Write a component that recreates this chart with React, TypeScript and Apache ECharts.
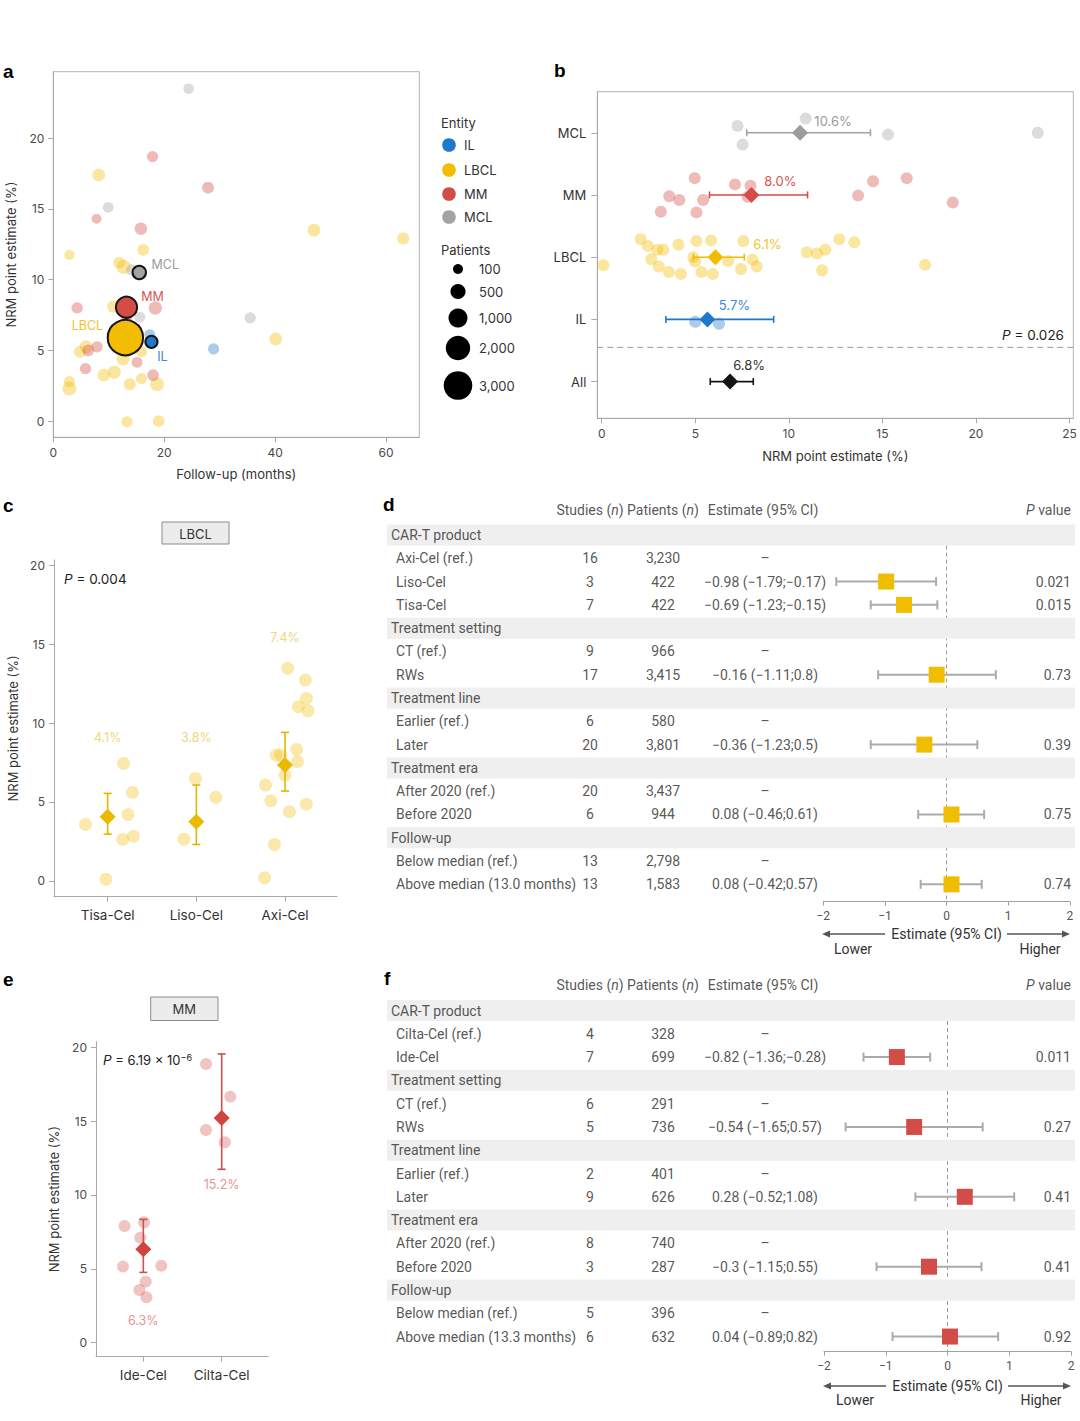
import React, { useEffect, useRef } from "react";
import * as echarts from "echarts";

const FONT = "Inter, 'Noto Sans', 'DejaVu Sans', sans-serif";
const TFONT = "Roboto, 'Liberation Sans', 'DejaVu Sans', sans-serif";
const BOLD = "'Liberation Sans', Arial, sans-serif";

const COL: Record<string, string> = { IL: "#1f78c8", LBCL: "#f2bd00", MM: "#d24d48", MCL: "#a3a3a3", All: "#141414" };
const LABCOL: Record<string, string> = { IL: "#3a8ad4", LBCL: "#efc435", MM: "#d9534f", MCL: "#9b9b9b", All: "#333333" };
const FAINT = 0.38;

// ---------------- panel a : [follow-up months, NRM %, patients]
const aIL = [[17.4, 6.1, 150], [28.9, 5.1, 160]];
const aLBCL = [
  [8.2, 17.4, 280], [47.0, 13.5, 280], [63.1, 12.9, 230], [16.2, 12.1, 200], [2.9, 11.75, 110], [11.9, 11.2, 220],
  [12.7, 10.9, 420], [10.8, 8.1, 220], [40.1, 5.8, 280], [5.9, 5.25, 300], [4.8, 4.9, 220], [12.6, 4.4, 320],
  [15.9, 4.9, 160], [11.5, 5.9, 250], [11.0, 3.45, 300], [9.1, 3.25, 260], [15.9, 3.0, 160], [13.8, 2.6, 220],
  [18.7, 2.6, 360], [2.9, 2.8, 160], [2.9, 2.3, 380], [13.3, -0.05, 160], [19.0, 0.0, 200],
];
const aMM = [
  [17.9, 18.7, 170], [27.9, 16.5, 220], [7.8, 14.3, 100], [15.8, 13.6, 260], [4.3, 8.0, 180], [18.4, 8.0, 320],
  [6.3, 5.0, 200], [7.9, 5.25, 170], [15.1, 4.15, 150], [5.8, 3.7, 170], [18.0, 3.25, 200], [13.2, 7.2, 150], [12.5, 7.9, 150],
];
const aMCL = [[24.4, 23.5, 130], [9.9, 15.1, 140], [14.1, 10.7, 160], [15.6, 7.35, 150], [35.5, 7.3, 170]];
const aSumEntity = ["LBCL", "MM", "MCL", "IL"];
const aSumFollow = [13.0, 13.2, 15.5, 17.7];
const aSumNRM = [5.9, 8.05, 10.5, 5.6];
const aSumPatients = [4381, 1027, 180, 110];
const legendEntities = ["IL", "LBCL", "MM", "MCL"];
const legendPatients = [100, 500, 1000, 2000, 3000];
const legendPatientLabels = ["100", "500", "1,000", "2,000", "3,000"];
const aXTicks = [0, 20, 40, 60];
const nrmTicks = [0, 5, 10, 15, 20];

// ---------------- panel b : [NRM %, vertical jitter]
const bRows = ["MCL", "MM", "LBCL", "IL", "All"];
const bMCL = [[7.26, -0.11], [10.9, -0.23], [7.53, 0.19], [15.3, 0.03], [23.3, 0.0]];
const bMM = [
  [4.97, -0.27], [7.12, -0.17], [7.95, -0.15], [3.61, 0.02], [4.15, 0.08], [5.42, 0.08], [3.16, 0.27],
  [5.06, 0.28], [7.8, 0.03], [14.5, -0.22], [16.3, -0.27], [13.7, 0.01], [18.76, 0.12],
];
const bLBCL = [
  [2.08, -0.29], [2.47, -0.18], [2.98, -0.12], [3.29, -0.12], [4.1, -0.2], [5.06, -0.26], [5.85, -0.27], [7.57, -0.26],
  [0.09, 0.13], [2.65, 0.03], [3.05, 0.15], [3.59, 0.24], [4.23, 0.27], [5.0, 0.07], [5.33, 0.24], [5.94, 0.27],
  [6.75, 0.06], [7.44, 0.19], [8.07, 0.04], [8.29, 0.15], [10.96, -0.08], [11.5, -0.06], [11.95, -0.12], [12.7, -0.29],
  [13.5, -0.24], [11.78, 0.21], [17.28, 0.12], [4.9, 0.0],
];
const bIL = [[5.0, 0.04], [6.27, 0.07]];
const bEst = [10.6, 8.0, 6.08, 5.65, 6.86];
const bLo = [7.75, 5.76, 4.9, 3.43, 5.8];
const bHi = [14.36, 11.0, 7.62, 9.19, 8.1];
const bLab = ["10.6%", "8.0%", "6.1%", "5.7%", "6.8%"];
const bXTicks = [0, 5, 10, 15, 20, 25];
const bSepRow = 3.45;

// ---------------- panel c : [x jitter, NRM %]
const cGroups = ["Tisa-Cel", "Liso-Cel", "Axi-Cel"];
const cTisa = [[-0.25, 3.57], [0.18, 7.44], [0.28, 5.6], [0.23, 4.2], [0.29, 2.83], [0.17, 2.62], [-0.02, 0.1]];
const cLiso = [[-0.01, 6.49], [0.22, 5.29], [-0.14, 2.64]];
const cAxi = [
  [0.03, 13.47], [0.23, 12.73], [0.24, 11.56], [0.15, 11.04], [0.26, 10.78], [-0.1, 7.97], [-0.05, 7.97], [0.13, 8.33],
  [0.14, 7.55], [0.0, 6.7], [-0.22, 6.07], [-0.16, 5.07], [0.05, 4.38], [0.24, 4.86], [-0.12, 2.3], [-0.23, 0.19],
];
const cEst = [4.06, 3.74, 7.34];
const cLo = [2.96, 2.3, 5.69];
const cHi = [5.54, 6.07, 9.41];
const cLab = ["4.1%", "3.8%", "7.4%"];
const cLabY = [9.1, 9.1, 15.4];

// ---------------- panel e
const eGroups = ["Ide-Cel", "Cilta-Cel"];
const eIde = [[-0.24, 7.9], [0.01, 8.15], [-0.04, 7.11], [-0.26, 5.15], [0.23, 5.21], [0.03, 4.13], [-0.05, 3.57], [0.04, 3.07]];
const eCilta = [[-0.2, 18.87], [0.11, 16.66], [-0.2, 14.4], [0.04, 13.57]];
const eEst = [6.32, 15.21];
const eLo = [4.76, 11.74];
const eHi = [8.35, 19.55];
const eLab = ["6.3%", "15.2%"];
const eLabY = [1.53, 10.68];

// ---------------- panel d table
const dLabels = ["CAR-T product", "Axi-Cel (ref.)", "Liso-Cel", "Tisa-Cel", "Treatment setting", "CT (ref.)", "RWs",
  "Treatment line", "Earlier (ref.)", "Later", "Treatment era", "After 2020 (ref.)", "Before 2020", "Follow-up",
  "Below median (ref.)", "Above median (13.0 months)"];
const dIsGroup = [1, 0, 0, 0, 1, 0, 0, 1, 0, 0, 1, 0, 0, 1, 0, 0];
const dStudies = ["", "16", "3", "7", "", "9", "17", "", "6", "20", "", "20", "6", "", "13", "13"];
const dPatients = ["", "3,230", "422", "422", "", "966", "3,415", "", "580", "3,801", "", "3,437", "944", "", "2,798", "1,583"];
const dEstText = ["", "–", "−0.98 (−1.79;−0.17)", "−0.69 (−1.23;−0.15)", "", "–", "−0.16 (−1.11;0.8)", "", "–",
  "−0.36 (−1.23;0.5)", "", "–", "0.08 (−0.46;0.61)", "", "–", "0.08 (−0.42;0.57)"];
const dPval = ["", "", "0.021", "0.015", "", "", "0.73", "", "", "0.39", "", "", "0.75", "", "", "0.74"];
const dEst = [null, null, -0.98, -0.69, null, null, -0.16, null, null, -0.36, null, null, 0.08, null, null, 0.08];
const dLo = [null, null, -1.79, -1.23, null, null, -1.11, null, null, -1.23, null, null, -0.46, null, null, -0.42];
const dHi = [null, null, -0.17, -0.15, null, null, 0.8, null, null, 0.5, null, null, 0.61, null, null, 0.57];

// ---------------- panel f table
const fLabels = ["CAR-T product", "Cilta-Cel (ref.)", "Ide-Cel", "Treatment setting", "CT (ref.)", "RWs", "Treatment line",
  "Earlier (ref.)", "Later", "Treatment era", "After 2020 (ref.)", "Before 2020", "Follow-up", "Below median (ref.)",
  "Above median (13.3 months)"];
const fIsGroup = [1, 0, 0, 1, 0, 0, 1, 0, 0, 1, 0, 0, 1, 0, 0];
const fStudies = ["", "4", "7", "", "6", "5", "", "2", "9", "", "8", "3", "", "5", "6"];
const fPatients = ["", "328", "699", "", "291", "736", "", "401", "626", "", "740", "287", "", "396", "632"];
const fEstText = ["", "–", "−0.82 (−1.36;−0.28)", "", "–", "−0.54 (−1.65;0.57)", "", "–", "0.28 (−0.52;1.08)", "", "–",
  "−0.3 (−1.15;0.55)", "", "–", "0.04 (−0.89;0.82)"];
const fPval = ["", "", "0.011", "", "", "0.27", "", "", "0.41", "", "", "0.41", "", "", "0.92"];
const fEst = [null, null, -0.82, null, null, -0.54, null, null, 0.28, null, null, -0.3, null, null, 0.04];
const fLo = [null, null, -1.36, null, null, -1.65, null, null, -0.52, null, null, -1.15, null, null, -0.89];
const fHi = [null, null, -0.28, null, null, 0.57, null, null, 1.08, null, null, 0.55, null, null, 0.82];
const forestTicks = [-2, -1, 0, 1, 2];

// ---------------- layout
const SZ = (n: number) => 5.8 + 0.417 * Math.sqrt(n);
const ROWH = 23.29;
const D_ROW0 = 535, F_ROW0 = 1010.5, T_MIN = -1.6, D_MAX = 15.74, F_MAX = 14.65;
const COLX = { group: 4, item: 9, studies: 203, patients: 276, est: 378, p: 684 };
const HDR = -1.08;

const TICKTXT = "#4a4a4a";
const AXC = "#a8a8a8";

function valAxis(grid: number, min: number, max: number, ticks: number[], extra: any = {}) {
  return {
    gridIndex: grid, type: "value", min, max,
    axisLine: { show: true, onZero: false, lineStyle: { color: AXC, width: 1 } },
    axisTick: { show: true, customValues: ticks, length: 5, lineStyle: { color: AXC } },
    axisLabel: { customValues: ticks, color: TICKTXT, fontSize: 12, fontFamily: FONT, margin: 9 },
    splitLine: { show: false },
    nameTextStyle: { color: "#333", fontSize: 13, fontFamily: FONT },
    ...extra,
  };
}

function hiddenAxis(grid: number, min: number, max: number, inverse = false) {
  return { gridIndex: grid, type: "value", min, max, inverse, show: false, splitLine: { show: false } };
}

function hErr(colorOf: (i: number) => string, cap: number, lw: number) {
  return (params: any, api: any) => {
    const y = api.value(0), lo = api.value(1), hi = api.value(2);
    const a = api.coord([lo, y]), b = api.coord([hi, y]);
    const st = { stroke: colorOf(params.dataIndex), lineWidth: lw };
    return {
      type: "group", children: [
        { type: "line", shape: { x1: a[0], y1: a[1], x2: b[0], y2: b[1] }, style: st },
        { type: "line", shape: { x1: a[0], y1: a[1] - cap, x2: a[0], y2: a[1] + cap }, style: st },
        { type: "line", shape: { x1: b[0], y1: b[1] - cap, x2: b[0], y2: b[1] + cap }, style: st },
      ],
    };
  };
}

function vErr(color: string, cap: number, lw: number) {
  return (params: any, api: any) => {
    const x = api.value(0), lo = api.value(1), hi = api.value(2);
    const a = api.coord([x, lo]), b = api.coord([x, hi]);
    const st = { stroke: color, lineWidth: lw };
    return {
      type: "group", children: [
        { type: "line", shape: { x1: a[0], y1: a[1], x2: b[0], y2: b[1] }, style: st },
        { type: "line", shape: { x1: a[0] - cap, y1: a[1], x2: a[0] + cap, y2: a[1] }, style: st },
        { type: "line", shape: { x1: b[0] - cap, y1: b[1], x2: b[0] + cap, y2: b[1] }, style: st },
      ],
    };
  };
}

function T(x: number, y: number, t: string, align: string) {
  return { value: [x, y], t, label: { align } };
}

function tableData(labels: string[], isGroup: number[], studies: string[], patients: string[], est: string[], p: string[]) {
  const out: any[] = [];
  out.push(T(COLX.studies, HDR, "Studies ({i|n})", "center"));
  out.push(T(COLX.patients, HDR, "Patients ({i|n})", "center"));
  out.push(T(COLX.est - 2, HDR, "Estimate (95% CI)", "center"));
  out.push(T(COLX.p, HDR, "{i|P} value", "right"));
  labels.forEach((l, i) => {
    out.push(T(isGroup[i] ? COLX.group : COLX.item, i, l, "left"));
    if (studies[i]) out.push(T(COLX.studies, i, studies[i], "center"));
    if (patients[i]) out.push(T(COLX.patients, i, patients[i], "center"));
    if (est[i]) out.push(T(COLX.est, i, est[i], "center"));
    if (p[i]) out.push(T(COLX.p, i, p[i], "right"));
  });
  return out;
}

function forestSeries(gTable: number, gForest: number, labels: string[], isGroup: number[], studies: string[],
  patients: string[], estText: string[], pv: string[], est: any[], lo: any[], hi: any[], maxRow: number, color: string) {
  const groupRows = isGroup.map((g, i) => (g ? i : -1)).filter((i) => i >= 0);
  const idx = est.map((e, i) => (e == null ? -1 : i)).filter((i) => i >= 0);
  return [
    {
      type: "custom", xAxisIndex: gTable, yAxisIndex: gTable, silent: true, z: 1,
      data: groupRows.map((r) => [0, r]),
      renderItem: (params: any, api: any) => {
        const cs = params.coordSys;
        const y = api.coord([0, api.value(1)])[1];
        return { type: "rect", shape: { x: cs.x, y: y - 10.5, width: cs.width, height: 21 }, style: { fill: "#efefef" } };
      },
    },
    {
      type: "custom", xAxisIndex: gForest, yAxisIndex: gForest, silent: true, z: 0,
      data: [[0, 0.45, maxRow]],
      renderItem: (params: any, api: any) => {
        const a = api.coord([api.value(0), api.value(1)]);
        const b = api.coord([api.value(0), api.value(2)]);
        return { type: "line", shape: { x1: a[0], y1: a[1], x2: b[0], y2: b[1] }, style: { stroke: "#9a9a9a", lineWidth: 1, lineDash: [4, 3] } };
      },
    },
    {
      type: "custom", xAxisIndex: gForest, yAxisIndex: gForest, silent: true, z: 3,
      data: idx.map((i) => [i, lo[i], hi[i]]),
      renderItem: hErr(() => "#ababab", 4.5, 2),
    },
    {
      type: "scatter", xAxisIndex: gForest, yAxisIndex: gForest, silent: true, z: 4,
      symbol: "rect", symbolSize: 16,
      data: idx.map((i) => [est[i], i]),
      itemStyle: { color, opacity: 1 },
    },
    {
      type: "scatter", xAxisIndex: gTable, yAxisIndex: gTable, silent: true, z: 5,
      symbolSize: 1, itemStyle: { color: "rgba(0,0,0,0)" },
      data: tableData(labels, isGroup, studies, patients, estText, pv),
      label: {
        show: true, position: "inside", color: "#2b2b2b", fontSize: 14, fontFamily: TFONT,
        formatter: (p: any) => p.data.t,
        rich: { i: { fontStyle: "italic", fontSize: 14, fontFamily: TFONT, color: "#2b2b2b" } },
      },
    },
  ];
}

function buildOption() {
  const dTop = D_ROW0 + T_MIN * ROWH, dH = (D_MAX - T_MIN) * ROWH;
  const fTop = F_ROW0 + T_MIN * ROWH, fH = (F_MAX - T_MIN) * ROWH;

  const grid = [
    { left: 53.3, top: 71.7, width: 366, height: 365.6, show: true, borderColor: "#b4b4b4", borderWidth: 1 },
    { left: 597.3, top: 91.7, width: 476, height: 326.6, show: true, borderColor: "#b4b4b4", borderWidth: 1 },
    { left: 54, top: 560, width: 283, height: 336.7 },
    { left: 96, top: 1041.7, width: 172.3, height: 315 },
    { left: 387, top: dTop, width: 688, height: dH },
    { left: 823.3, top: dTop, width: 246.5, height: dH },
    { left: 387, top: fTop, width: 688, height: fH },
    { left: 824, top: fTop, width: 247, height: fH },
  ];

  const forestAxis = (g: number, gap: number) => ({
    gridIndex: g, type: "value", min: -2, max: 2, interval: 1,
    axisLine: { show: true, onZero: false, lineStyle: { color: "#a0a0a0" } },
    axisTick: { show: true, length: 4, lineStyle: { color: "#a0a0a0" } },
    axisLabel: { color: "#555", fontSize: 12, fontFamily: TFONT, margin: 8, formatter: (v: number) => (v < 0 ? "−" + Math.abs(v) : String(v)) },
    splitLine: { show: false },
    name: "Estimate (95% CI)", nameLocation: "middle", nameGap: gap,
    nameTextStyle: { color: "#333", fontSize: 14, fontFamily: TFONT },
  });

  const xAxis = [
    valAxis(0, 0, 66, aXTicks, { name: "Follow-up (months)", nameLocation: "middle", nameGap: 30 }),
    valAxis(1, -0.235, 25.2, bXTicks, { name: "NRM point estimate (%)", nameLocation: "middle", nameGap: 31 }),
    valAxis(2, 0.395, 3.586, [1, 2, 3], {
      axisLabel: { customValues: [1, 2, 3], color: "#333", fontSize: 13.5, fontFamily: FONT, margin: 11, formatter: (v: number) => cGroups[Math.round(v) - 1] },
    }),
    valAxis(3, 0.396, 2.595, [1, 2], {
      axisLabel: { customValues: [1, 2], color: "#333", fontSize: 13.5, fontFamily: FONT, margin: 11, formatter: (v: number) => eGroups[Math.round(v) - 1] },
    }),
    hiddenAxis(4, 0, 688),
    forestAxis(5, 25),
    hiddenAxis(6, 0, 688),
    forestAxis(7, 27),
  ];

  const yAxis = [
    valAxis(0, -1.15, 24.7, nrmTicks, { name: "NRM point estimate (%)", nameLocation: "middle", nameGap: 36 }),
    valAxis(1, -0.66, 4.59, [0, 1, 2, 3, 4], {
      inverse: true,
      axisTick: { show: true, customValues: [0, 1, 2, 3, 4], length: 6, lineStyle: { color: AXC } },
      axisLabel: { customValues: [0, 1, 2, 3, 4], color: "#333", fontSize: 13, fontFamily: FONT, margin: 11, formatter: (v: number) => bRows[Math.round(v)] },
    }),
    valAxis(2, -1.01, 20.34, nrmTicks, { name: "NRM point estimate (%)", nameLocation: "middle", nameGap: 35 }),
    valAxis(3, -0.95, 20.38, nrmTicks, { name: "NRM point estimate (%)", nameLocation: "middle", nameGap: 36 }),
    hiddenAxis(4, T_MIN, D_MAX, true),
    hiddenAxis(5, T_MIN, D_MAX, true),
    hiddenAxis(6, T_MIN, F_MAX, true),
    hiddenAxis(7, T_MIN, F_MAX, true),
  ];

  const series: any[] = [];

  // ---- panel a
  const aFaint: Record<string, number[][]> = { LBCL: aLBCL, MM: aMM, MCL: aMCL, IL: aIL };
  ["LBCL", "MM", "MCL", "IL"].forEach((k) => {
    series.push({
      type: "scatter", xAxisIndex: 0, yAxisIndex: 0, silent: true, z: 2,
      data: aFaint[k], symbolSize: (v: number[]) => SZ(v[2]),
      itemStyle: { color: COL[k], opacity: FAINT },
    });
  });
  const aOffsets = [[-38, -12], [26, -11], [26, -8], [11, 15]];
  series.push({
    type: "scatter", xAxisIndex: 0, yAxisIndex: 0, silent: true, z: 3,
    symbolSize: (v: number[]) => SZ(v[2]) + 2,
    data: aSumEntity.map((e, i) => ({
      value: [aSumFollow[i], aSumNRM[i], aSumPatients[i]],
      itemStyle: { color: COL[e], borderColor: "#151515", borderWidth: 2, opacity: 1 },
      label: { offset: aOffsets[i], color: LABCOL[e] },
    })),
    label: { show: true, position: "inside", fontSize: 12.5, fontFamily: FONT, formatter: (p: any) => aSumEntity[p.dataIndex] },
  });

  // ---- panel b
  const bPts: Record<string, number[][]> = { MCL: bMCL, MM: bMM, LBCL: bLBCL, IL: bIL };
  ["MCL", "MM", "LBCL", "IL"].forEach((k) => {
    const r = bRows.indexOf(k);
    series.push({
      type: "scatter", xAxisIndex: 1, yAxisIndex: 1, silent: true, z: 2, symbolSize: 12,
      data: bPts[k].map(([x, dy]) => [x, r + dy]),
      itemStyle: { color: COL[k], opacity: FAINT },
    });
  });
  series.push({
    type: "custom", xAxisIndex: 1, yAxisIndex: 1, silent: true, z: 1,
    data: [[0, bSepRow]],
    renderItem: (params: any, api: any) => {
      const cs = params.coordSys;
      const y = api.coord([0, api.value(1)])[1];
      return { type: "line", shape: { x1: cs.x, y1: y, x2: cs.x + cs.width, y2: y }, style: { stroke: "#9a9a9a", lineWidth: 1, lineDash: [6, 4] } };
    },
  });
  series.push({
    type: "custom", xAxisIndex: 1, yAxisIndex: 1, silent: true, z: 3,
    data: bRows.map((r, i) => [i, bLo[i], bHi[i]]),
    renderItem: hErr((i) => COL[bRows[i]], 3.5, 1.6),
  });
  const bOffsets = [[33, -12], [29, -14], [52, -13], [27, -14], [19, -17]];
  series.push({
    type: "scatter", xAxisIndex: 1, yAxisIndex: 1, silent: true, z: 4, symbol: "diamond", symbolSize: 16,
    data: bRows.map((r, i) => ({
      value: [bEst[i], i],
      itemStyle: { color: r === "MCL" ? "#9c9c9c" : COL[r], opacity: 1 },
      label: { offset: bOffsets[i], color: LABCOL[r] },
    })),
    label: { show: true, position: "inside", fontSize: 13, fontFamily: FONT, formatter: (p: any) => bLab[p.dataIndex] },
  });

  // ---- panel c
  const cAll = [cTisa, cLiso, cAxi];
  series.push({
    type: "scatter", xAxisIndex: 2, yAxisIndex: 2, silent: true, z: 2, symbolSize: 13,
    data: cAll.flatMap((pts, g) => pts.map(([dx, y]) => [g + 1 + dx, y])),
    itemStyle: { color: COL.LBCL, opacity: 0.33 },
  });
  series.push({
    type: "custom", xAxisIndex: 2, yAxisIndex: 2, silent: true, z: 3,
    data: cGroups.map((g, i) => [i + 1, cLo[i], cHi[i]]),
    renderItem: vErr("#e6b400", 4, 1.6),
  });
  series.push({
    type: "scatter", xAxisIndex: 2, yAxisIndex: 2, silent: true, z: 4, symbol: "diamond", symbolSize: 16,
    data: cGroups.map((g, i) => [i + 1, cEst[i]]),
    itemStyle: { color: "#ebb900", opacity: 1 },
  });
  series.push({
    type: "scatter", xAxisIndex: 2, yAxisIndex: 2, silent: true, z: 4, symbolSize: 1,
    itemStyle: { color: "rgba(0,0,0,0)" },
    data: cGroups.map((g, i) => [i + 1, cLabY[i]]),
    label: { show: true, position: "inside", color: "#ebcb55", fontSize: 12.5, fontFamily: FONT, formatter: (p: any) => cLab[p.dataIndex] },
  });

  // ---- panel e
  const eAll = [eIde, eCilta];
  series.push({
    type: "scatter", xAxisIndex: 3, yAxisIndex: 3, silent: true, z: 2, symbolSize: 12,
    data: eAll.flatMap((pts, g) => pts.map(([dx, y]) => [g + 1 + dx, y])),
    itemStyle: { color: COL.MM, opacity: 0.33 },
  });
  series.push({
    type: "custom", xAxisIndex: 3, yAxisIndex: 3, silent: true, z: 3,
    data: eGroups.map((g, i) => [i + 1, eLo[i], eHi[i]]),
    renderItem: vErr("#c9524d", 4, 1.6),
  });
  series.push({
    type: "scatter", xAxisIndex: 3, yAxisIndex: 3, silent: true, z: 4, symbol: "diamond", symbolSize: 16,
    data: eGroups.map((g, i) => [i + 1, eEst[i]]),
    itemStyle: { color: "#d0443f", opacity: 1 },
  });
  series.push({
    type: "scatter", xAxisIndex: 3, yAxisIndex: 3, silent: true, z: 4, symbolSize: 1,
    itemStyle: { color: "rgba(0,0,0,0)" },
    data: eGroups.map((g, i) => [i + 1, eLabY[i]]),
    label: { show: true, position: "inside", color: "#e07773", fontSize: 12.5, fontFamily: FONT, formatter: (p: any) => eLab[p.dataIndex] },
  });

  // ---- panels d, f
  series.push(...forestSeries(4, 5, dLabels, dIsGroup, dStudies, dPatients, dEstText, dPval, dEst, dLo, dHi, D_MAX, "#f0bd00"));
  series.push(...forestSeries(6, 7, fLabels, fIsGroup, fStudies, fPatients, fEstText, fPval, fEst, fLo, fHi, F_MAX, "#d44c47"));

  // ---- graphics
  const g: any[] = [];
  const letter = (t: string, x: number, y: number) =>
    g.push({ type: "text", x, y, style: { text: t, fill: "#000", font: `bold 19px ${BOLD}`, align: "left", verticalAlign: "middle" } });
  letter("a", 3, 71);
  letter("b", 554, 70);
  letter("c", 3, 505);
  letter("d", 383, 504);
  letter("e", 3, 979);
  letter("f", 384, 978);

  const txt = (t: string, x: number, y: number, align = "left", size = 13, color = "#333", family = FONT, rich: any = undefined) =>
    g.push({ type: "text", x, y, style: { text: t, fill: color, fontSize: size, fontFamily: family, align, verticalAlign: "middle", rich } });

  // legend a
  txt("Entity", 441, 123);
  legendEntities.forEach((e, i) => {
    const y = [145, 170, 194, 217][i];
    g.push({ type: "circle", shape: { cx: 449, cy: y, r: 6.8 }, style: { fill: COL[e] } });
    txt(e, 464, y);
  });
  txt("Patients", 441, 250);
  legendPatients.forEach((n, i) => {
    const y = [269, 291.5, 318, 348, 385.5][i];
    g.push({ type: "circle", shape: { cx: 458, cy: y, r: SZ(n) / 2 }, style: { fill: "#000" } });
    txt(legendPatientLabels[i], 479, y);
  });

  const richP = { i: { fontStyle: "italic", fontSize: 13.5, fontFamily: FONT, fill: "#222", color: "#222" }, s: { fontSize: 9, fontFamily: FONT, verticalAlign: "top", color: "#222", fill: "#222" } };
  txt("{i|P} = 0.026", 1064, 334.5, "right", 13.5, "#222", FONT, richP);
  txt("{i|P} = 0.004", 64, 579, "left", 13.5, "#222", FONT, richP);
  txt("{i|P} = 6.19 × 10{s|−6}", 103, 1060, "left", 13, "#222", FONT, richP);

  // title boxes
  g.push({ type: "rect", shape: { x: 162, y: 522, width: 67, height: 22 }, style: { fill: "#ececec", stroke: "#8c8c8c", lineWidth: 1 } });
  txt("LBCL", 195.5, 533.5, "center", 13);
  g.push({ type: "rect", shape: { x: 150.7, y: 997, width: 67.3, height: 23.5 }, style: { fill: "#ececec", stroke: "#8c8c8c", lineWidth: 1 } });
  txt("MM", 184.3, 1009, "center", 13);

  // arrows & Lower / Higher
  const arrows = (y: number, l0: number, l1: number, r0: number, r1: number) => {
    const st = { stroke: "#555", lineWidth: 1.6 };
    g.push({ type: "line", shape: { x1: l0 + 6, y1: y, x2: l1, y2: y }, style: st });
    g.push({ type: "polygon", shape: { points: [[l0, y], [l0 + 8, y - 3.5], [l0 + 8, y + 3.5]] }, style: { fill: "#555" } });
    g.push({ type: "line", shape: { x1: r0, y1: y, x2: r1 - 6, y2: y }, style: st });
    g.push({ type: "polygon", shape: { points: [[r1, y], [r1 - 8, y - 3.5], [r1 - 8, y + 3.5]] }, style: { fill: "#555" } });
  };
  arrows(934, 822, 885, 1007, 1070);
  txt("Lower", 853, 948.5, "center", 14, "#333", TFONT);
  txt("Higher", 1040, 948.5, "center", 14, "#333", TFONT);
  arrows(1386, 823, 886, 1008, 1071);
  txt("Lower", 855, 1400, "center", 14, "#333", TFONT);
  txt("Higher", 1041, 1400, "center", 14, "#333", TFONT);

  return {
    animation: false,
    backgroundColor: "#ffffff",
    textStyle: { fontFamily: FONT },
    grid, xAxis, yAxis, series, graphic: g,
  };
}

export default function App() {
  const ref = useRef<HTMLDivElement>(null);
  useEffect(() => {
    const chart = echarts.init(ref.current as HTMLDivElement, undefined, { renderer: "svg", width: 1080, height: 1421 });
    chart.setOption(buildOption() as any);
    return () => chart.dispose();
  }, []);
  return <div ref={ref} style={{ position: "absolute", left: 0, top: 0, width: 1080, height: 1421, background: "#fff" }} />;
}
